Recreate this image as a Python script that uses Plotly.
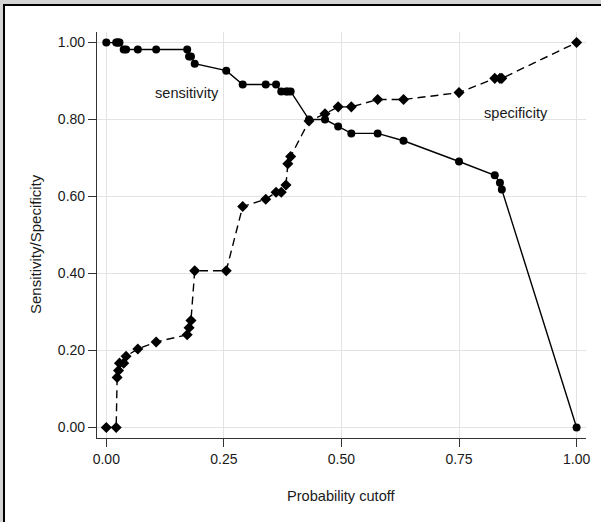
import plotly.graph_objects as go

# Probability cutoffs (shared by both curves)
cutoff = [0.000, 0.021, 0.023, 0.026, 0.028, 0.037, 0.042, 0.067, 0.106, 0.172,
          0.176, 0.180, 0.188, 0.255, 0.290, 0.339, 0.361, 0.372, 0.382, 0.386,
          0.392, 0.431, 0.465, 0.493, 0.521, 0.577, 0.632, 0.750, 0.826, 0.837,
          0.841, 1.000]
sensitivity = [1.000, 1.000, 1.000, 1.000, 1.000, 0.982, 0.982, 0.982, 0.982, 0.982,
               0.964, 0.964, 0.945, 0.927, 0.891, 0.891, 0.891, 0.873, 0.873, 0.873,
               0.873, 0.800, 0.800, 0.782, 0.764, 0.764, 0.745, 0.691, 0.655, 0.636,
               0.618, 0.000]
specificity = [0.000, 0.000, 0.130, 0.148, 0.167, 0.167, 0.185, 0.204, 0.222, 0.241,
               0.259, 0.278, 0.407, 0.407, 0.574, 0.593, 0.611, 0.611, 0.630, 0.685,
               0.704, 0.796, 0.815, 0.833, 0.833, 0.852, 0.852, 0.870, 0.907, 0.907,
               0.907, 1.000]
x_ticks = [0, 0.25, 0.5, 0.75, 1.0]
x_ticklabels = ["0.00", "0.25", "0.50", "0.75", "1.00"]
y_ticks = [0, 0.2, 0.4, 0.6, 0.8, 1.0]
y_ticklabels = ["0.00", "0.20", "0.40", "0.60", "0.80", "1.00"]

FONT = "Liberation Sans, Arial, sans-serif"

fig = go.Figure()
fig.add_trace(go.Scatter(
    x=cutoff, y=specificity, mode="lines+markers", name="specificity",
    line=dict(color="black", width=1.4, dash="8px,5px"),
    marker=dict(symbol="diamond", size=8.5, color="black"),
))
fig.add_trace(go.Scatter(
    x=cutoff, y=sensitivity, mode="lines+markers", name="sensitivity",
    line=dict(color="black", width=1.4),
    marker=dict(symbol="circle", size=8, color="black"),
))

# plot-area geometry in pixels (for paper-coordinate conversion)
L, R, T, B = 97, 586, 32, 438
W, H = 601, 522
def px(x):
    return (x - L) / (R - L)
def py(y):
    return (B - y) / (B - T)

fig.update_layout(
    width=W, height=H,
    margin=dict(l=L, r=W - R, t=T, b=H - B),
    paper_bgcolor="#d4d4d4",
    plot_bgcolor="rgba(0,0,0,0)",
    showlegend=False,
    font=dict(family=FONT, size=14, color="#1a1a1a"),
    shapes=[dict(type="rect", xref="paper", yref="paper",
                 x0=px(4), x1=px(640), y0=py(560), y1=py(5),
                 fillcolor="white", line=dict(color="black", width=2),
                 layer="below")],
    annotations=[
        dict(x=0.1715, y=0.870, xref="x", yref="y", text="sensitivity",
             showarrow=False, xanchor="center", yanchor="middle",
             font=dict(size=14.6)),
        dict(x=0.871, y=0.817, xref="x", yref="y", text="specificity",
             showarrow=False, xanchor="center", yanchor="middle",
             font=dict(size=14.6)),
        dict(x=0.5, y=py(496), xref="paper", yref="paper",
             text="Probability cutoff", showarrow=False,
             xanchor="center", yanchor="middle", font=dict(size=14.6)),
        dict(x=px(35), y=py(244), xref="paper", yref="paper",
             text="Sensitivity/Specificity", showarrow=False, textangle=-90,
             xanchor="center", yanchor="middle", font=dict(size=15)),
    ],
)
fig.update_xaxes(
    range=[-0.0198, 1.02], tickvals=x_ticks, ticktext=x_ticklabels,
    showgrid=True, gridcolor="#e3e3e3", gridwidth=1, zeroline=False,
    showline=True, linecolor="#333333", linewidth=1.2,
    ticks="outside", ticklen=8, tickcolor="#333333",
)
fig.update_yaxes(
    range=[-0.0275, 1.0275], tickvals=y_ticks, ticktext=y_ticklabels,
    showgrid=True, gridcolor="#e3e3e3", gridwidth=1, zeroline=False,
    showline=True, linecolor="#333333", linewidth=1.2,
    ticks="outside", ticklen=8, tickcolor="#333333",
)

fig.write_html(
    "out.html",
    config={"displayModeBar": False},
    post_script="document.body.style.margin='0';document.body.style.overflow='hidden';",
)
